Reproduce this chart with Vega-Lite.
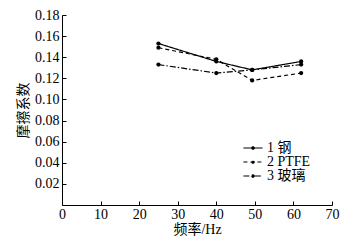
{
  "$schema": "https://vega.github.io/schema/vega-lite/v6.json",
  "width": 270,
  "height": 190,
  "autosize": {"type": "none"},
  "padding": {"left": 62, "top": 15, "right": 12, "bottom": 37},
  "background": "white",
  "config": {
    "view": {"stroke": null},
    "font": "Liberation Serif",
    "axis": {
      "domainColor": "#000",
      "tickColor": "#000",
      "labelColor": "#000",
      "titleColor": "#000",
      "grid": false,
      "labelFont": "Liberation Serif",
      "labelFontSize": 14,
      "titleFont": "Liberation Serif, Noto Sans CJK SC",
      "titleFontSize": 14,
      "titleFontWeight": "normal",
      "domainWidth": 1,
      "tickWidth": 1
    },
    "legend": {
      "labelFont": "Liberation Serif, Noto Sans CJK SC",
      "labelFontSize": 14,
      "labelColor": "#000"
    }
  },
  "data": {
    "values": [
      {"f": 25, "mu": 0.153, "s": "1 钢"},
      {"f": 40, "mu": 0.136, "s": "1 钢"},
      {"f": 49.3, "mu": 0.128, "s": "1 钢"},
      {"f": 62, "mu": 0.136, "s": "1 钢"},
      {"f": 25, "mu": 0.149, "s": "2 PTFE"},
      {"f": 40, "mu": 0.138, "s": "2 PTFE"},
      {"f": 49.3, "mu": 0.118, "s": "2 PTFE"},
      {"f": 62, "mu": 0.125, "s": "2 PTFE"},
      {"f": 25, "mu": 0.133, "s": "3 玻璃"},
      {"f": 40, "mu": 0.125, "s": "3 玻璃"},
      {"f": 49.3, "mu": 0.128, "s": "3 玻璃"},
      {"f": 62, "mu": 0.133, "s": "3 玻璃"}
    ]
  },
  "encoding": {
    "x": {
      "field": "f", "type": "quantitative",
      "scale": {"domain": [0, 70], "nice": false},
      "axis": {"values": [0, 10, 20, 30, 40, 50, 60, 70], "tickSize": -4, "labelPadding": 6, "title": "频率/Hz", "titlePadding": 1, "labelFlush": false}
    },
    "y": {
      "field": "mu", "type": "quantitative",
      "scale": {"domain": [0, 0.18], "nice": false},
      "axis": {"values": [0.02, 0.04, 0.06, 0.08, 0.1, 0.12, 0.14, 0.16, 0.18], "format": ".2f", "tickSize": -4, "labelPadding": 7, "title": "摩擦系数", "titlePadding": 4, "labelFlush": false}
    }
  },
  "layer": [
    {
      "mark": {"type": "line", "color": "#000", "strokeWidth": 1.2},
      "encoding": {
        "strokeDash": {
          "field": "s", "type": "nominal",
          "scale": {"domain": ["1 钢", "2 PTFE", "3 玻璃"], "range": [[1, 0], [4, 3], [6, 2, 1.5, 2]]},
          "legend": {"title": null, "orient": "none", "legendX": 184, "legendY": 126, "symbolType": "M-1.6,0L1.6,0M-0.2,0A0.2,0.2,0,1,0,0.2,0A0.2,0.2,0,1,0,-0.2,0Z", "symbolSize": 144, "symbolStrokeWidth": 1.2, "symbolStrokeColor": "#000", "symbolFillColor": "#000", "rowPadding": 0, "labelOffset": 7}
        }
      }
    },
    {
      "mark": {"type": "point", "filled": true, "color": "#000", "size": 18, "opacity": 1},
      "encoding": {"detail": {"field": "s"}}
    }
  ]
}
